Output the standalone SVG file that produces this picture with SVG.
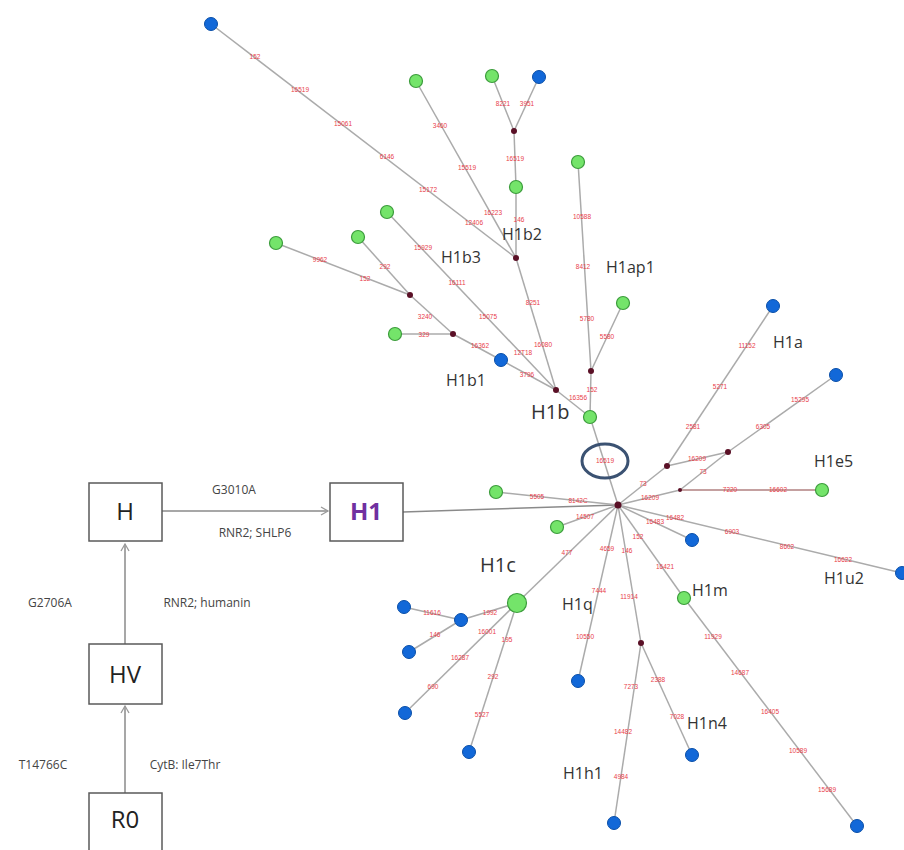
<svg xmlns="http://www.w3.org/2000/svg" width="904" height="850" viewBox="0 0 904 850">
<defs>
<style>
.e{stroke:#ababab;stroke-width:1.5;fill:none}
.box{fill:#fff;stroke:#5a5a5a;stroke-width:1.5}
.bt{font-family:"Open Sans","Liberation Sans",sans-serif;font-size:24px;fill:#222;text-anchor:middle}
.el{font-family:"Open Sans","Liberation Sans",sans-serif;font-size:12px;fill:#444;text-anchor:middle}
.hl{font-family:"Open Sans","Liberation Sans",sans-serif;font-size:16px;fill:#333}
.hb{font-family:"Open Sans","Liberation Sans",sans-serif;font-size:20px;fill:#333}
.m{font-family:"Liberation Sans",sans-serif;font-size:6.5px;fill:#e8404a;text-anchor:middle}
.b{fill:#1268d8;stroke:#0a4fa8;stroke-width:1}
.g{fill:#74e46a;stroke:#3c9c3c;stroke-width:1.2}
.j{fill:#5a1026}
</style>
<marker id="arr" markerWidth="12" markerHeight="12" refX="10" refY="6" orient="auto" markerUnits="userSpaceOnUse">
<path d="M3,2 L10,6 L3,10" fill="none" stroke="#9a9a9a" stroke-width="1.3"/>
</marker>
</defs>
<rect width="904" height="850" fill="#fff"/>

<g id="connectors">
<line class="e" x1="162" y1="511" x2="328" y2="511" marker-end="url(#arr)" style="stroke:#8a8a8a"/>
<line class="e" x1="125" y1="644" x2="125" y2="544" marker-end="url(#arr)" style="stroke:#8a8a8a"/>
<line class="e" x1="125" y1="793" x2="125" y2="706" marker-end="url(#arr)" style="stroke:#8a8a8a"/>
<line class="e" x1="403" y1="512" x2="618" y2="505" style="stroke:#8a8a8a"/>

<line class="e" x1="211" y1="24" x2="516" y2="258"/>
<line class="e" x1="416" y1="81" x2="516" y2="258"/>
<line class="e" x1="492" y1="76" x2="514" y2="131"/>
<line class="e" x1="539" y1="77" x2="514" y2="131"/>
<line class="e" x1="514" y1="131" x2="516" y2="187"/>
<line class="e" x1="516" y1="187" x2="516" y2="258"/>
<line class="e" x1="516" y1="258" x2="556" y2="390"/>
<line class="e" x1="387" y1="212" x2="556" y2="390"/>
<line class="e" x1="556" y1="390" x2="501" y2="360"/>
<line class="e" x1="501" y1="360" x2="453" y2="334"/>
<line class="e" x1="395" y1="334" x2="453" y2="334"/>
<line class="e" x1="453" y1="334" x2="410" y2="295"/>
<line class="e" x1="276" y1="243" x2="410" y2="295"/>
<line class="e" x1="358" y1="237" x2="410" y2="295"/>
<line class="e" x1="556" y1="390" x2="590" y2="417"/>
<line class="e" x1="578" y1="162" x2="591" y2="371"/>
<line class="e" x1="623" y1="303" x2="591" y2="371"/>
<line class="e" x1="591" y1="371" x2="590" y2="417"/>
<line class="e" x1="590" y1="417" x2="618" y2="505"/>

<line class="e" x1="773" y1="306" x2="667" y2="466"/>
<line class="e" x1="667" y1="466" x2="618" y2="505"/>
<line class="e" x1="836" y1="375" x2="728" y2="452"/>
<line class="e" x1="728" y1="452" x2="667" y2="466"/>
<line class="e" x1="728" y1="452" x2="680" y2="490"/>
<line class="e" x1="680" y1="490" x2="618" y2="505"/>
<line class="e" x1="680" y1="490" x2="822" y2="490" style="stroke:#b08080"/>

<line class="e" x1="496" y1="492" x2="618" y2="505"/>
<line class="e" x1="557" y1="527" x2="618" y2="505"/>
<line class="e" x1="517" y1="603" x2="618" y2="505"/>
<line class="e" x1="517" y1="603" x2="461" y2="620"/>
<line class="e" x1="461" y1="620" x2="404" y2="607"/>
<line class="e" x1="461" y1="620" x2="409" y2="652"/>
<line class="e" x1="517" y1="603" x2="405" y2="713"/>
<line class="e" x1="517" y1="603" x2="469" y2="752"/>

<line class="e" x1="618" y1="505" x2="578" y2="681"/>
<line class="e" x1="618" y1="505" x2="641" y2="643"/>
<line class="e" x1="641" y1="643" x2="614" y2="823"/>
<line class="e" x1="641" y1="643" x2="692" y2="755"/>
<line class="e" x1="618" y1="505" x2="684" y2="598"/>
<line class="e" x1="684" y1="598" x2="857" y2="826"/>
<line class="e" x1="618" y1="505" x2="692" y2="540"/>
<line class="e" x1="618" y1="505" x2="902" y2="573"/>
</g>

<g id="mutation-labels">
<text class="m" x="255" y="59">152</text>
<text class="m" x="300" y="92">16519</text>
<text class="m" x="343" y="126">15061</text>
<text class="m" x="387" y="159">6146</text>
<text class="m" x="428" y="192">15172</text>
<text class="m" x="474" y="225">12406</text>
<text class="m" x="440" y="128">3460</text>
<text class="m" x="467" y="170">15519</text>
<text class="m" x="493" y="215">16223</text>
<text class="m" x="503" y="106">8221</text>
<text class="m" x="527" y="106">3951</text>
<text class="m" x="515" y="161">16519</text>
<text class="m" x="519" y="222">146</text>
<text class="m" x="533" y="305">8251</text>
<text class="m" x="543" y="347">16080</text>
<text class="m" x="423" y="250">15929</text>
<text class="m" x="457" y="285">16111</text>
<text class="m" x="488" y="319">15075</text>
<text class="m" x="523" y="355">12T18</text>
<text class="m" x="527" y="377">3796</text>
<text class="m" x="480" y="348">16362</text>
<text class="m" x="424" y="337">329</text>
<text class="m" x="425" y="319">3240</text>
<text class="m" x="320" y="262">9962</text>
<text class="m" x="365" y="281">152</text>
<text class="m" x="385" y="269">292</text>
<text class="m" x="578" y="400">16356</text>
<text class="m" x="582" y="219">10588</text>
<text class="m" x="583" y="269">8412</text>
<text class="m" x="587" y="321">5780</text>
<text class="m" x="607" y="339">5580</text>
<text class="m" x="592" y="392">152</text>
<text class="m" x="605" y="463">16519</text>
<text class="m" x="747" y="348">11152</text>
<text class="m" x="720" y="389">5271</text>
<text class="m" x="693" y="429">2581</text>
<text class="m" x="643" y="486">73</text>
<text class="m" x="800" y="402">15295</text>
<text class="m" x="763" y="429">6305</text>
<text class="m" x="697" y="461">16209</text>
<text class="m" x="703" y="474">73</text>
<text class="m" x="650" y="500">16209</text>
<text class="m" x="730" y="492">7220</text>
<text class="m" x="778" y="492">16602</text>
<text class="m" x="537" y="499">5505</text>
<text class="m" x="578" y="503">8142C</text>
<text class="m" x="585" y="519">14507</text>
<text class="m" x="567" y="555">477</text>
<text class="m" x="490" y="615">1992</text>
<text class="m" x="432" y="615">11616</text>
<text class="m" x="435" y="637">146</text>
<text class="m" x="487" y="634">16001</text>
<text class="m" x="507" y="642">195</text>
<text class="m" x="460" y="660">16287</text>
<text class="m" x="433" y="689">690</text>
<text class="m" x="493" y="679">292</text>
<text class="m" x="482" y="717">5527</text>
<text class="m" x="607" y="551">4659</text>
<text class="m" x="599" y="593">7444</text>
<text class="m" x="585" y="639">10550</text>
<text class="m" x="627" y="553">146</text>
<text class="m" x="629" y="599">11914</text>
<text class="m" x="631" y="689">7273</text>
<text class="m" x="623" y="734">14482</text>
<text class="m" x="621" y="779">4984</text>
<text class="m" x="658" y="682">2388</text>
<text class="m" x="677" y="719">7028</text>
<text class="m" x="638" y="539">152</text>
<text class="m" x="665" y="569">16421</text>
<text class="m" x="713" y="639">11929</text>
<text class="m" x="740" y="675">14687</text>
<text class="m" x="770" y="714">16405</text>
<text class="m" x="798" y="753">10589</text>
<text class="m" x="827" y="792">15689</text>
<text class="m" x="655" y="524">16483</text>
<text class="m" x="675" y="520">16482</text>
<text class="m" x="732" y="534">6903</text>
<text class="m" x="787" y="549">8602</text>
<text class="m" x="843" y="562">16622</text>
</g>

<ellipse id="highlight" cx="605" cy="461" rx="23" ry="17" fill="none" stroke="#3b5272" stroke-width="3"/>

<g id="node-H"><rect class="box" x="89" y="483" width="73" height="58"/><text class="bt" x="125" y="520">H</text></g>
<g id="node-H1"><rect class="box" x="330" y="483" width="73" height="58"/><text class="bt" x="366" y="520" style="fill:#7030a0;font-weight:bold">H1</text></g>
<g id="node-HV"><rect class="box" x="89" y="644" width="73" height="60"/><text class="bt" x="125" y="683">HV</text></g>
<g id="node-R0"><rect class="box" x="89" y="793" width="73" height="70"/><text class="bt" x="125" y="828">R0</text></g>

<g id="edge-labels">
<text class="el" x="234" y="494">G3010A</text>
<text class="el" x="255" y="537">RNR2; SHLP6</text>
<text class="el" x="50" y="607">G2706A</text>
<text class="el" x="207" y="607">RNR2; humanin</text>
<text class="el" x="43" y="769">T14766C</text>
<text class="el" x="185" y="769">CytB: Ile7Thr</text>
</g>

<g id="hub"><circle class="j" cx="618" cy="505" r="3.5"/></g>
<g id="junctions">
<circle class="j" cx="514" cy="131" r="3"/>
<circle class="j" cx="516" cy="258" r="3"/>
<circle class="j" cx="556" cy="390" r="3"/>
<circle class="j" cx="453" cy="334" r="3"/>
<circle class="j" cx="410" cy="295" r="3"/>
<circle class="j" cx="591" cy="371" r="3"/>
<circle class="j" cx="667" cy="466" r="3"/>
<circle class="j" cx="728" cy="452" r="3"/>
<circle class="j" cx="680" cy="490" r="2"/>
<circle class="j" cx="641" cy="643" r="3"/>
</g>

<g id="n-top-blue"><circle class="b" cx="211" cy="24" r="6.5"/></g>
<g id="n-g1"><circle class="g" cx="416" cy="81" r="6.5"/></g>
<g id="n-g2"><circle class="g" cx="492" cy="76" r="6.5"/></g>
<g id="n-b2"><circle class="b" cx="539" cy="77" r="6.5"/></g>
<g id="n-H1b2"><circle class="g" cx="516" cy="187" r="6.5"/><text class="hl" x="502" y="240">H1b2</text></g>
<g id="n-g3"><circle class="g" cx="387" cy="212" r="6.5"/><text class="hl" x="441" y="263">H1b3</text></g>
<g id="n-g4"><circle class="g" cx="276" cy="243" r="6.5"/></g>
<g id="n-g5"><circle class="g" cx="358" cy="237" r="6.5"/></g>
<g id="n-g6"><circle class="g" cx="395" cy="334" r="6.5"/></g>
<g id="n-H1b1"><circle class="b" cx="501" cy="360" r="6.5"/><text class="hl" x="446" y="386">H1b1</text></g>
<g id="n-g7"><circle class="g" cx="578" cy="162" r="6.5"/></g>
<g id="n-H1ap1"><circle class="g" cx="623" cy="303" r="6.5"/><text class="hl" x="606" y="273">H1ap1</text></g>
<g id="n-H1b"><circle class="g" cx="590" cy="417" r="6.5"/><text class="hb" x="531" y="419">H1b</text></g>
<g id="n-H1a"><circle class="b" cx="773" cy="306" r="6.5"/><text class="hl" x="773" y="348">H1a</text></g>
<g id="n-b3"><circle class="b" cx="836" cy="375" r="6.5"/></g>
<g id="n-H1e5"><circle class="g" cx="822" cy="490" r="6.5"/><text class="hl" x="814" y="467">H1e5</text></g>
<g id="n-g8"><circle class="g" cx="496" cy="492" r="6.5"/></g>
<g id="n-g9"><circle class="g" cx="557" cy="527" r="6.5"/></g>
<g id="n-H1c"><circle class="g" cx="517" cy="603" r="9.5"/><text class="hb" x="480" y="572">H1c</text></g>
<g id="n-b4"><circle class="b" cx="461" cy="620" r="6.5"/></g>
<g id="n-b5"><circle class="b" cx="404" cy="607" r="6.5"/></g>
<g id="n-b6"><circle class="b" cx="409" cy="652" r="6.5"/></g>
<g id="n-b7"><circle class="b" cx="405" cy="713" r="6.5"/></g>
<g id="n-b8"><circle class="b" cx="469" cy="752" r="6.5"/></g>
<g id="n-H1q"><circle class="b" cx="578" cy="681" r="6.5"/><text class="hl" x="562" y="610">H1q</text></g>
<g id="n-H1h1"><circle class="b" cx="614" cy="823" r="6.5"/><text class="hl" x="563" y="779">H1h1</text></g>
<g id="n-H1n4"><circle class="b" cx="692" cy="755" r="6.5"/><text class="hl" x="687" y="729">H1n4</text></g>
<g id="n-H1m"><circle class="g" cx="684" cy="598" r="6.5"/><text class="hl" x="692" y="596">H1m</text></g>
<g id="n-b9"><circle class="b" cx="857" cy="826" r="6.5"/></g>
<g id="n-b10"><circle class="b" cx="692" cy="540" r="6.5"/></g>
<g id="n-H1u2"><circle class="b" cx="902" cy="573" r="6.5"/><text class="hl" x="824" y="584">H1u2</text></g>
</svg>
